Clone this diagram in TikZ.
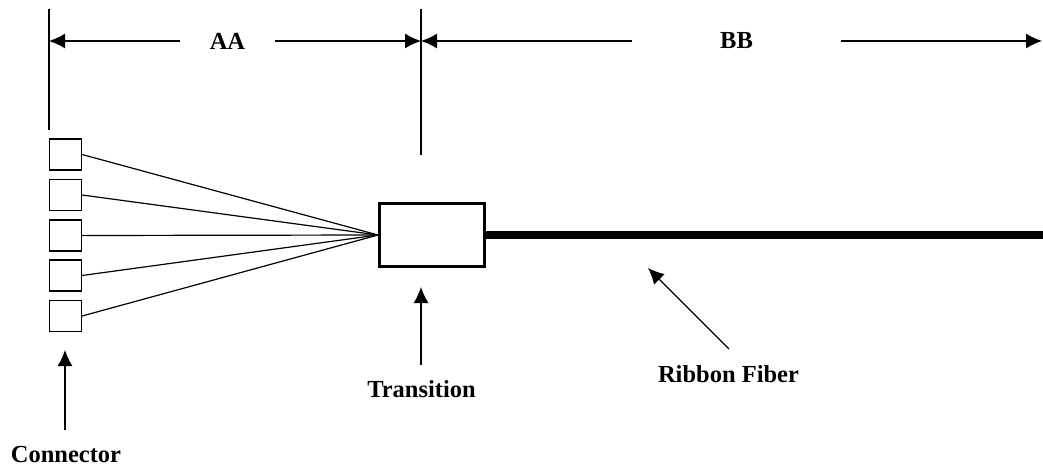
\documentclass[tikz,border=0pt]{standalone}
\usepackage{fontspec}
\setmainfont{Liberation Serif}
\usetikzlibrary{arrows.meta}
\tikzset{x=0.5pt, y=-0.5pt,
  >={Latex[length=8pt,width=7.5pt]},
  ThinStyle/.style={line width=0.6pt},
  ConnStyle/.style={draw, ThinStyle, minimum width=16pt, minimum height=15.5pt, inner sep=0pt},
  TransStyle/.style={draw, line width=1.5pt, minimum width=52.5pt, minimum height=31.5pt, inner sep=0pt},
  LabelStyle/.style={font=\fontsize{12.25}{14}\selectfont\bfseries, inner sep=0pt},
  FiberStyle/.style={line width=4pt}}

\begin{document}
\begin{tikzpicture}
  \useasboundingbox (0,0) rectangle (1043,466);
  \node[ConnStyle] (C1) at (65.5,154.5) {};
  \node[ConnStyle] (C2) at (65.5,195) {};
  \node[ConnStyle] (C3) at (65.5,235.5) {};
  \node[ConnStyle] (C4) at (65.5,275.5) {};
  \node[ConnStyle] (C5) at (65.5,316) {};
  \node[TransStyle] (T) at (432,235) {};
  \coordinate (FiberEnd) at (1043,235);
  \draw[FiberStyle] (T.east) -- (FiberEnd);
  \draw[ThinStyle] (C1.east) -- (T.west);
  \draw[ThinStyle] (C2.east) -- (T.west);
  \draw[ThinStyle] (C3.east) -- (T.west);
  \draw[ThinStyle] (C4.east) -- (T.west);
  \draw[ThinStyle] (C5.east) -- (T.west);
  % dimensions
  \coordinate (ExtLTop) at (49,9);
  \coordinate (ExtLBot) at (49,130);
  \coordinate (ExtMTop) at (421,9);
  \coordinate (ExtMBot) at (421,155);
  \draw[ThinStyle] (ExtLTop) -- (ExtLBot);
  \draw[ThinStyle] (ExtMTop) -- (ExtMBot);
  \coordinate (DimL) at (49,41);
  \coordinate (DimM) at (421,41);
  \coordinate (DimR) at (1042,41);
  \node[LabelStyle, minimum width=47.5pt] (AA) at (227.5,41) {AA};
  \node[LabelStyle, minimum width=104.5pt] (BB) at (736.5,41) {BB};
  \draw[ThinStyle, ->] (AA.west) -- (DimL);
  \draw[ThinStyle, ->] (AA.east) -- (DimM);
  \draw[ThinStyle, ->] (BB.west) -- (DimM);
  \draw[ThinStyle, ->] (BB.east) -- (DimR);
  % labels
  \node[LabelStyle, anchor=base] (ConnLbl) at (66,462) {Connector};
  \node[LabelStyle, anchor=base] (TransLbl) at (421.5,397) {Transition};
  \node[LabelStyle, anchor=base] (FiberLbl) at (728.5,382) {Ribbon Fiber};
  \coordinate (ConnTail) at (65,430);
  \coordinate (ConnTip) at (65,350);
  \coordinate (TransTail) at (421,365);
  \coordinate (TransTip) at (421,287);
  \coordinate (FiberTail) at (729,349);
  \coordinate (FiberTip) at (648,268);
  \draw[ThinStyle, ->] (ConnTail) -- (ConnTip);
  \draw[ThinStyle, ->] (TransTail) -- (TransTip);
  \draw[ThinStyle, ->] (FiberTail) -- (FiberTip);
\end{tikzpicture}
\end{document}
